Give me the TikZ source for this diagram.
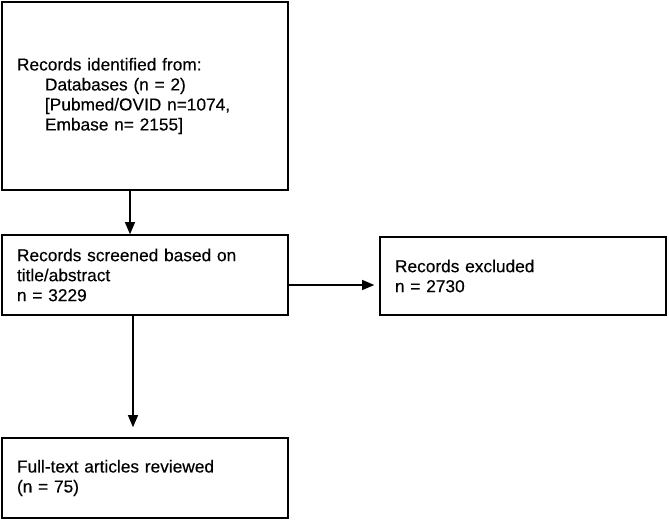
\documentclass[tikz,border=0pt]{standalone}
\usepackage{fontspec}
\setmainfont{Liberation Sans}[FakeBold=0.3]
\usetikzlibrary{arrows.meta}
\begin{document}
\begin{tikzpicture}[x=1pt,y=-1pt,
  box/.style={draw=black, line width=1.6pt, rectangle, minimum width=286pt,
    text width=256pt, inner xsep=15pt, align=left,
    font=\fontsize{17.3}{20}\selectfont},
  link/.style={draw=black, line width=1.1pt, -{Triangle[width=10pt,length=12pt]}}]
  \useasboundingbox (0,0) rectangle (669,521);

  % flow boxes
  \node[box, minimum height=188pt] (ident) at (145,96)
    {Records identified from:\\
     \hspace*{28pt}Databases (n = 2)\\
     \hspace*{28pt}[Pubmed/OVID n=1074,\\
     \hspace*{28pt}Embase n= 2155]};
  \node[box, minimum height=80pt] (screen) at (145,275)
    {Records screened based on\\title/abstract\\n = 3229};
  \node[box, minimum height=78pt] (excl) at (523,276)
    {Records excluded\\n = 2730};
  \node[box, minimum height=80pt] (full) at (145,478)
    {Full-text articles reviewed\\(n = 75)};

  % connectors
  \draw[link] ([xshift=-15pt]ident.south) -- ([xshift=-15pt]screen.north);
  \draw[link, shorten >=10pt] ([xshift=-12pt]screen.south) -- ([xshift=-12pt]full.north);
  \coordinate (side) at ([yshift=-10pt]screen.east);
  \draw[link, shorten >=5pt] (side) -- (side -| excl.west);
\end{tikzpicture}
\end{document}
